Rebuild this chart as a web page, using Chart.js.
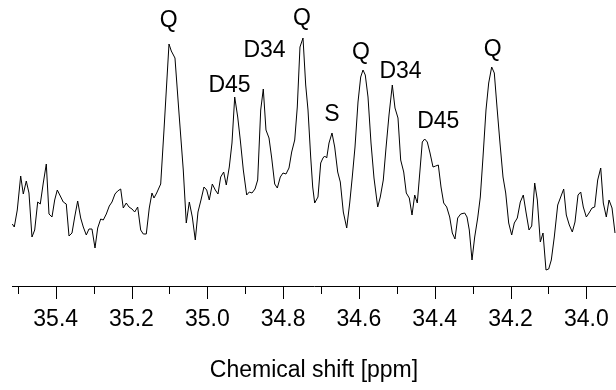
<!DOCTYPE html>
<html>
<head>
<meta charset="utf-8">
<script src="https://cdn.jsdelivr.net/npm/chart.js@4/dist/chart.umd.min.js"></script>
<style>
  body { margin: 0; background: #fff; }
  #myChart { display: block; }
</style>
</head>
<body>
<canvas id="myChart" width="616" height="390"></canvas>
<script>
// chemical shift (ppm) of each sample
const shifts = [
  35.5145, 35.5093, 35.5014, 35.4924, 35.4855, 35.4776, 35.4705, 35.4626, 35.4554, 35.4475,
  35.4407, 35.4328, 35.4248, 35.4177, 35.4098, 35.4027, 35.3958, 35.3879, 35.3800, 35.3721,
  35.3649, 35.3570, 35.3499, 35.3420, 35.3341, 35.3272, 35.3193, 35.3122, 35.3043, 35.2963,
  35.2892, 35.2813, 35.2744, 35.2665, 35.2586, 35.2515, 35.2436, 35.2365, 35.2285, 35.2217,
  35.2138, 35.2066, 35.1987, 35.1916, 35.1837, 35.1758, 35.1689, 35.1610, 35.1531, 35.1460,
  35.1407, 35.1336, 35.1230, 35.1143, 35.1011, 35.0950, 35.0853, 35.0747, 35.0634, 35.0555,
  35.0475, 35.0396, 35.0317, 35.0246, 35.0167, 35.0088, 35.0016, 34.9948, 34.9868, 34.9789,
  34.9718, 34.9647, 34.9568, 34.9499, 34.9420, 34.9349, 34.9277, 34.9198, 34.9130, 34.9050,
  34.8961, 34.8892, 34.8821, 34.8742, 34.8671, 34.8591, 34.8523, 34.8452, 34.8372, 34.8301,
  34.8222, 34.8153, 34.8074, 34.8003, 34.7924, 34.7845, 34.7774, 34.7694, 34.7626, 34.7555,
  34.7475, 34.7404, 34.7343, 34.7272, 34.7219, 34.7167, 34.7080, 34.7008, 34.6948, 34.6903,
  34.6850, 34.6789, 34.6710, 34.6639, 34.6560, 34.6491, 34.6412, 34.6322, 34.6243, 34.6175,
  34.6103, 34.6024, 34.5953, 34.5892, 34.5832, 34.5760, 34.5681, 34.5602, 34.5504, 34.5436,
  34.5357, 34.5285, 34.5206, 34.5119, 34.5048, 34.4969, 34.4898, 34.4818, 34.4750, 34.4671,
  34.4599, 34.4528, 34.4460, 34.4388, 34.4328, 34.4264, 34.4196, 34.4124, 34.4045, 34.3974,
  34.3905, 34.3834, 34.3763, 34.3684, 34.3605, 34.3536, 34.3465, 34.3394, 34.3314,
  34.3209, 34.3148, 34.3088, 34.3016, 34.2945, 34.2866, 34.2797, 34.2726, 34.2647, 34.2576,
  34.2497, 34.2428, 34.2357, 34.2278, 34.2198, 34.2127, 34.2048, 34.1969, 34.1900, 34.1821,
  34.1742, 34.1663, 34.1592, 34.1512, 34.1441, 34.1362, 34.1293, 34.1214, 34.1143, 34.1064,
  34.0993, 34.0924, 34.0845, 34.0755, 34.0676, 34.0597, 34.0528, 34.0449, 34.0370, 34.0299,
  34.0219, 34.0148, 34.0080, 34.0000, 33.9929, 33.9850, 33.9779, 33.9700, 33.9620, 33.9552,
  33.9473, 33.9401, 33.9322, 33.9243
]

// intensity (arbitrary units)
const intensity = [
  62, 59, 76, 110, 92, 105, 93, 49, 56, 84,
  82, 103, 122, 72, 69, 86, 96, 90, 84, 82,
  50, 53, 69, 85, 68, 59, 51, 57, 57, 38,
  58, 67, 66, 72, 80, 84, 92, 95, 97, 78,
  83, 79, 77, 74, 79, 56, 52, 52, 78, 93,
  88, 93, 102, 156, 242, 235, 228, 173, 116, 63,
  84, 69, 46, 74, 86, 99, 96, 86, 102, 96,
  92, 109, 114, 101, 119, 143, 189, 169, 146, 116,
  91, 94, 93, 97, 106, 176, 197, 156, 148, 128,
  102, 98, 109, 113, 112, 118, 134, 146, 179, 239,
  248, 201, 176, 129, 99, 83, 89, 123, 128, 130,
  128, 143, 153, 139, 114, 104, 74, 58, 83, 109,
  139, 184, 209, 216, 211, 189, 143, 108, 79, 89,
  106, 138, 171, 201, 178, 168, 126, 114, 93, 88,
  71, 91, 83, 116, 144, 147, 144, 133, 119, 120,
  121, 99, 83, 79, 69, 53, 47, 68, 72,
  73, 69, 56, 26, 49, 68, 89, 129, 176, 203,
  219, 213, 179, 143, 109, 93, 63, 51, 63, 68,
  84, 91, 74, 56, 60, 103, 86, 44, 53, 16,
  17, 26, 49, 81, 89, 97, 71, 61, 54, 64,
  91, 94, 79, 69, 73, 78, 79, 106, 118, 83,
  69, 86, 78, 53
]

// peak assignments: text, shift and height of the label
const peakNames = ['Q', 'D45', 'D34', 'Q', 'S', 'Q', 'D34', 'D45', 'Q']
const peakShifts = [35.1016, 34.9415, 34.8491, 34.7502, 34.671, 34.5945, 34.4903, 34.3905, 34.2468]
const peakHeights = [259.5, 194.5, 228.8, 261.2, 165.5, 226.8, 207.8, 158.5, 230.2]

const shiftMin = 33.9217
const shiftMax = 35.5153
const FONT = '"Liberation Sans", Arial, Helvetica, sans-serif'

const isMajor = (v) => Math.round(v * 10) % 2 === 0

// tick marks: long ones every 0.2 ppm, short ones in between
const tickMarks = {
  id: 'tickMarks',
  afterDraw(chart) {
    const ctx = chart.ctx
    const scale = chart.scales.x
    ctx.save()
    ctx.strokeStyle = '#000'
    ctx.lineWidth = 1
    scale.ticks.forEach(t => {
      const px = Math.round(scale.getPixelForValue(t.value)) + 0.5
      const len = isMajor(t.value) ? 13 : 8
      ctx.beginPath()
      ctx.moveTo(px, scale.top)
      ctx.lineTo(px, scale.top + len)
      ctx.stroke()
    })
    ctx.restore()
  }
}

const peakLabels = {
  id: 'peakLabels',
  afterDatasetsDraw(chart) {
    const ctx = chart.ctx
    const xs = chart.scales.x
    const ys = chart.scales.y
    ctx.save()
    ctx.fillStyle = '#000'
    ctx.font = '23px ' + FONT
    ctx.textAlign = 'center'
    ctx.textBaseline = 'alphabetic'
    peakNames.forEach((name, i) => {
      ctx.fillText(name, xs.getPixelForValue(peakShifts[i]), ys.getPixelForValue(peakHeights[i]))
    })
    ctx.restore()
  }
}

const data = {
  datasets: [{
    label: 'Spectrum',
    data: shifts.map((s, i) => ({ x: s, y: intensity[i] })),
    borderColor: '#000',
    borderWidth: 1,
    pointRadius: 0,
    tension: 0,
    fill: false
  }]
}

const config = {
  type: 'line',
  data: data,
  options: {
    responsive: false,
    animation: false,
    devicePixelRatio: 1,
    layout: { padding: { left: 12, right: 0, top: 0, bottom: 0 } },
    plugins: {
      legend: { display: false },
      tooltip: { enabled: false }
    },
    scales: {
      x: {
        type: 'linear',
        reverse: true,
        min: shiftMin,
        max: shiftMax,
        grid: { display: false, drawTicks: false },
        border: { display: true, color: '#000', width: 1 },
        ticks: {
          stepSize: 0.1,
          includeBounds: false,
          autoSkip: false,
          maxRotation: 0,
          minRotation: 0,
          padding: 20,
          color: '#000',
          font: { family: FONT, size: 23 },
          callback: (v) => isMajor(v) ? v.toFixed(1) : ''
        },
        title: {
          display: true,
          text: 'Chemical shift [ppm]',
          color: '#000',
          font: { family: FONT, size: 23 },
          padding: { top: 6, bottom: 6 }
        },
        afterFit: (scale) => {
          // fixed axis band, no extra side padding for the edge labels
          scale.height = 104
          scale.paddingLeft = 0
          scale.paddingRight = 0
        }
      },
      y: {
        display: false,
        min: 0,
        max: 286
      }
    }
  },
  plugins: [tickMarks, peakLabels]
}

const myChart = new Chart(document.getElementById('myChart'), config)
</script>
</body>
</html>
